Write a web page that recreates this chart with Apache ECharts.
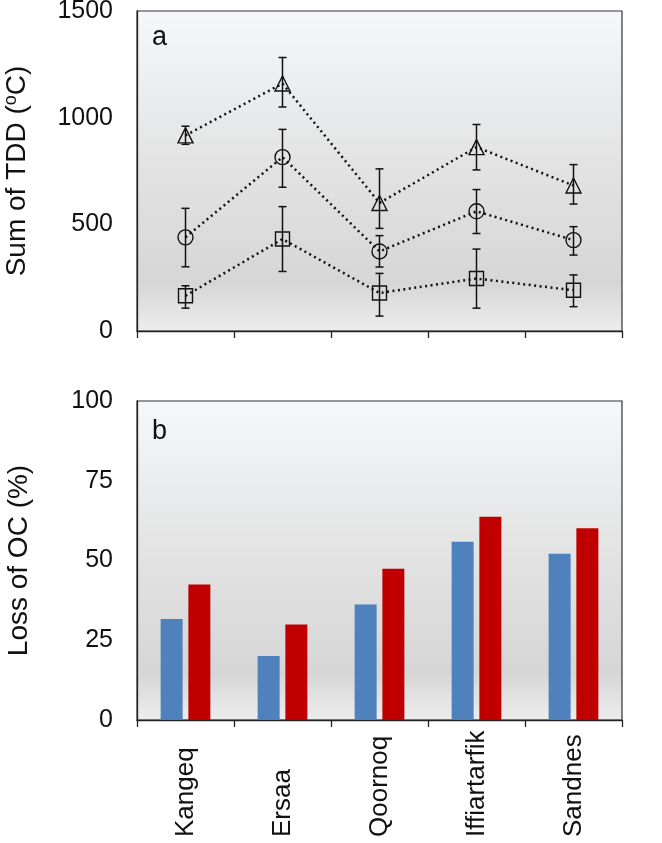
<!DOCTYPE html>
<html><head><meta charset="utf-8">
<script src="https://cdn.jsdelivr.net/npm/echarts@6/dist/echarts.min.js"></script>
<style>html,body{margin:0;padding:0;background:#fff}#c{width:662px;height:843px}</style>
</head><body><div id="c"></div>
<script>
const categories = ['Kangeq','Ersaa','Qoornoq','Iffiartarfik','Sandnes'];
const tddTicks = ['0', '500', '1000', '1500'];
const lossTicks = ['0', '25', '50', '75', '100'];
// panel a: sum of TDD
const triVal  = [917, 1160, 600, 862, 682];
const triLow  = [875, 1050, 481, 755, 595];
const triHigh = [960, 1282, 760, 968, 780];
const circVal  = [439, 815, 373, 561, 426];
const circLow  = [301, 674, 300, 457, 356];
const circHigh = [575, 945, 447, 663, 489];
const sqVal  = [165, 431, 178, 246, 191];
const sqLow  = [107, 279, 70, 107, 114];
const sqHigh = [212, 583, 270, 384, 263];
// panel b: loss of OC
const lossBlue = [31.7, 20.1, 36.2, 55.9, 52.1];
const lossRed  = [42.5, 29.9, 47.4, 63.7, 60.1];

const FONT = 'Liberation Sans, Arial, sans-serif';
const bg = {type:'linear', x:0, y:0, x2:0, y2:1, colorStops:[
  {offset:0, color:'#f5f7fa'}, {offset:0.5, color:'#e2e2e2'}, {offset:0.85, color:'#d6d6d6'}, {offset:1, color:'#ededed'}]};

function errData(lo, hi){ return categories.map((c,i)=>[i, lo[i], hi[i]]); }
function errRender(params, api){
  const x = api.value(0);
  const p1 = api.coord([x, api.value(1)]);
  const p2 = api.coord([x, api.value(2)]);
  const hw = 4;
  const st = {stroke:'#111', lineWidth:1.5};
  return {type:'group', children:[
    {type:'line', shape:{x1:p1[0], y1:p1[1], x2:p2[0], y2:p2[1]}, style:st},
    {type:'line', shape:{x1:p1[0]-hw, y1:p1[1], x2:p1[0]+hw, y2:p1[1]}, style:st},
    {type:'line', shape:{x1:p2[0]-hw, y1:p2[1], x2:p2[0]+hw, y2:p2[1]}, style:st}
  ]};
}
function lineSeries(vals, symbol, size){
  return {type:'line', xAxisIndex:0, yAxisIndex:0, data:vals, symbol:symbol, symbolSize:size,
    showAllSymbol:true,
    lineStyle:{color:'#111', width:2.5, type:[2,3.5]},
    itemStyle:{color:'rgba(0,0,0,0)', borderColor:'#111', borderWidth:1.4},
    emphasis:{disabled:true}, z:3};
}
function errSeries(lo, hi){
  return {type:'custom', xAxisIndex:0, yAxisIndex:0, data:errData(lo,hi), renderItem:errRender, z:4};
}
function tickFmt(ticks){ return function(v){ const s = String(v); return ticks.indexOf(s) >= 0 ? s : ''; }; }
const chart = echarts.init(document.getElementById('c'), null, {renderer:'canvas'});
const yCommon = {
  type:'value',
  axisLine:{show:true, lineStyle:{color:'#222', width:1.3}},
  axisTick:{show:false}, splitLine:{show:false},
  nameLocation:'middle', nameRotate:90,
};
const xCommon = {
  type:'category', data:categories, boundaryGap:true,
  axisLine:{show:true, lineStyle:{color:'#222', width:1.3}},
  axisTick:{show:true, alignWithLabel:false, length:7, lineStyle:{color:'#222', width:1.3}},
  splitLine:{show:false}
};
chart.setOption({
  animation:false,
  backgroundColor:'#ffffff',
  grid:[
    {left:137, right:40, top:11, height:320, show:true, outerBoundsMode:'none', containLabel:false, backgroundColor:bg, borderColor:'#333', borderWidth:1.2},
    {left:137, right:40, top:401, height:319, show:true, outerBoundsMode:'none', containLabel:false, backgroundColor:bg, borderColor:'#333', borderWidth:1.2}
  ],
  xAxis:[
    Object.assign({}, xCommon, {gridIndex:0, axisLabel:{show:false}}),
    Object.assign({}, xCommon, {gridIndex:1, axisLabel:{show:true, rotate:90, align:'left', verticalAlign:'middle', color:'#111', fontSize:26, fontFamily:FONT, margin:117, interval:0}})
  ],
  yAxis:[
    Object.assign({}, yCommon, {gridIndex:0, min:0, max:1500, interval:500,
      axisLabel:{color:'#111', fontSize:25, fontFamily:FONT, margin:24, formatter:tickFmt(tddTicks)},
      name:'{t|Sum of TDD (}{s|o}{t|C)}', nameGap:104,
      nameTextStyle:{color:'#111', fontFamily:FONT, rich:{t:{fontSize:28, fontFamily:FONT, color:'#111'}, s:{fontSize:18, fontFamily:FONT, color:'#111', padding:[0,0,13,0]}}}}),
    Object.assign({}, yCommon, {gridIndex:1, min:0, max:100, interval:25,
      axisLabel:{color:'#111', fontSize:25, fontFamily:FONT, margin:24, formatter:tickFmt(lossTicks)},
      name:'Loss of OC (%)', nameGap:104,
      nameTextStyle:{color:'#111', fontSize:28, fontFamily:FONT}})
  ],
  graphic:[
    {type:'text', left:152, top:24, style:{text:'a', fontSize:27, fontFamily:FONT, fill:'#111'}},
    {type:'text', left:152, top:418, style:{text:'b', fontSize:27, fontFamily:FONT, fill:'#111'}}
  ],
  series:[
    lineSeries(triVal, 'triangle', 15),
    lineSeries(circVal, 'circle', 15),
    lineSeries(sqVal, 'rect', 14),
    errSeries(triLow, triHigh),
    errSeries(circLow, circHigh),
    errSeries(sqLow, sqHigh),
    {type:'bar', xAxisIndex:1, yAxisIndex:1, data:lossBlue, barWidth:22, barGap:'26%', itemStyle:{color:'#4f81bd'}},
    {type:'bar', xAxisIndex:1, yAxisIndex:1, data:lossRed, barWidth:22, barGap:'26%', itemStyle:{color:'#c00000'}}
  ]
});
</script></body></html>
